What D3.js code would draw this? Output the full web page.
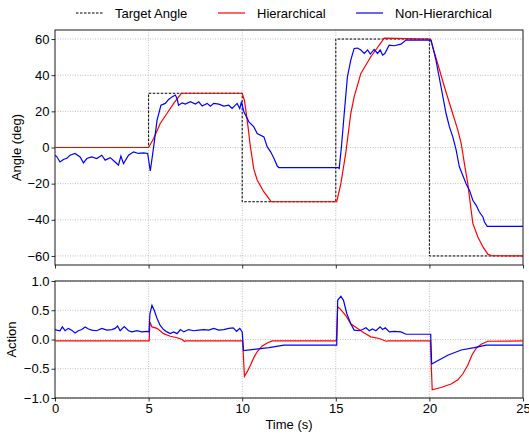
<!DOCTYPE html>
<html>
<head>
<meta charset="utf-8">
<script src="https://cdn.jsdelivr.net/npm/d3@7"></script>
<style>
  body { margin: 0; background: #fff; }
  svg text { font-family: "Liberation Sans", Arial, sans-serif; }
</style>
</head>
<body>
<div id="chart"></div>
<script>
// target step signal (step-after)
const targetTimes = [0, 5, 10, 15, 20, 25];
const targetAngles = [0, 30, -30, 60, -60, -60];

// [time, angle]
const hierAngle = [[0,0],[5.0,0],[5.27,5],[5.62,13.3],[5.98,18.8],[6.34,24.4],[6.75,30],[10.0,30],[10.12,26],[10.27,15],[10.44,0.3],[10.62,-12],[10.8,-18],[11.16,-24.6],[11.43,-28.3],[11.55,-30],[15.05,-30],[15.27,-20],[15.53,-3.3],[15.8,18.8],[15.98,28],[16.34,41],[16.87,50.2],[17.59,60.5],[20.05,60],[20.44,46.5],[20.8,33.6],[21.16,21.6],[21.52,9.6],[21.7,2.2],[21.87,-8.9],[22.05,-20],[22.23,-34.7],[22.32,-42],[22.59,-49.5],[22.86,-55],[23.12,-59],[23.3,-59.8],[25,-60]];

const flatAngle = [[0,-4.3],[0.09,-5],[0.27,-8],[0.45,-6.6],[0.63,-6],[0.8,-4.3],[1.07,-3.3],[1.34,-5.2],[1.52,-8.5],[1.7,-6.1],[1.96,-5.2],[2.23,-6.1],[2.5,-4.3],[2.68,-7],[2.95,-5.6],[3.21,-8],[3.39,-9.8],[3.52,-4.7],[3.66,-8.9],[3.93,-4.3],[4.2,-2.4],[4.46,-3.3],[4.73,-3],[4.95,-3.3],[5.09,-13],[5.27,0.3],[5.45,15],[5.66,23.4],[5.89,24.4],[6.07,26.6],[6.25,28],[6.43,29],[6.52,27],[6.6,23.4],[6.79,24.7],[6.96,24],[7.23,25.3],[7.5,24],[7.68,25.3],[7.86,22.9],[8.13,24.4],[8.3,22.9],[8.48,24.4],[8.75,24],[9.02,22.9],[9.28,23.4],[9.46,21.6],[9.73,24.4],[9.87,21.6],[9.96,25.3],[10.09,19.7],[10.36,14.2],[10.62,11.4],[10.8,7.7],[11.16,5.9],[11.34,0.3],[11.52,-2.4],[11.7,-6.1],[11.88,-10.4],[11.96,-11.1],[15.1,-11.1],[15.18,-11.6],[15.3,0.3],[15.45,18.8],[15.62,39],[15.8,48.3],[15.98,54.8],[16.16,55],[16.34,53.9],[16.52,52],[16.7,54],[16.84,51.7],[17.05,54.3],[17.23,52],[17.37,54],[17.5,51.1],[17.62,52],[17.85,56.6],[18.12,56.3],[18.48,57.2],[18.75,59.4],[20.09,59.4],[20.35,48.3],[20.62,33.6],[20.89,18.8],[21.07,11.4],[21.25,5.9],[21.43,-1.5],[21.6,-10.7],[21.78,-15.3],[21.96,-20],[22.14,-23.6],[22.32,-29.2],[22.5,-32],[22.67,-35.7],[22.86,-38.4],[22.94,-41.2],[23.09,-43.6],[25,-43.6]];

// [time, action]
const hierAction = [[0,-0.024],[5.03,-0.024],[5.07,0.3],[5.18,0.215],[5.45,0.19],[5.8,0.1],[6.16,0.056],[6.52,0.03],[6.79,0],[6.91,-0.03],[7.0,-0.024],[10.02,-0.024],[10.12,-0.63],[10.27,-0.55],[10.44,-0.44],[10.62,-0.31],[10.8,-0.21],[11.07,-0.11],[11.34,-0.06],[11.6,-0.024],[15.03,-0.024],[15.1,0.56],[15.27,0.51],[15.53,0.41],[15.8,0.27],[16.16,0.19],[16.52,0.11],[16.87,0.045],[17.32,0.017],[17.68,-0.03],[17.8,-0.024],[20.05,-0.024],[20.15,-0.86],[20.62,-0.82],[21.16,-0.76],[21.52,-0.69],[21.78,-0.59],[22.05,-0.44],[22.27,-0.27],[22.5,-0.15],[22.77,-0.08],[23.12,-0.03],[25,-0.024]];

const flatAction = [[0,0.17],[0.09,0.16],[0.27,0.15],[0.39,0.215],[0.54,0.15],[0.71,0.19],[0.89,0.16],[1.07,0.11],[1.25,0.15],[1.43,0.17],[1.61,0.215],[1.79,0.18],[1.96,0.16],[2.23,0.15],[2.5,0.19],[2.77,0.16],[3.04,0.17],[3.21,0.19],[3.34,0.23],[3.48,0.15],[3.7,0.22],[3.93,0.15],[4.11,0.13],[4.38,0.15],[4.64,0.13],[4.91,0.14],[5.02,0.13],[5.07,0.44],[5.18,0.585],[5.3,0.5],[5.45,0.36],[5.62,0.24],[5.8,0.17],[5.98,0.13],[6.16,0.1],[6.34,0.13],[6.52,0.1],[6.7,0.17],[6.88,0.13],[7.14,0.17],[7.41,0.15],[7.68,0.16],[7.95,0.17],[8.21,0.16],[8.48,0.19],[8.75,0.16],[9.02,0.17],[9.28,0.19],[9.52,0.2],[9.7,0.14],[9.87,0.19],[10.0,0.13],[10.07,-0.19],[11.43,-0.14],[12.23,-0.097],[15.05,-0.097],[15.1,0.67],[15.27,0.74],[15.41,0.67],[15.59,0.44],[15.8,0.27],[15.98,0.16],[16.25,0.15],[16.43,0.17],[16.61,0.2],[16.79,0.15],[16.96,0.18],[17.14,0.15],[17.37,0.215],[17.5,0.17],[17.64,0.2],[17.86,0.13],[18.12,0.14],[18.48,0.13],[18.75,0.09],[20.07,0.09],[20.12,-0.42],[20.98,-0.27],[21.7,-0.18],[22.4,-0.14],[23.03,-0.097],[25,-0.097]];

const xTicks = [0, 5, 10, 15, 20, 25];
const angleTicks = [-60, -40, -20, 0, 20, 40, 60];
const actionTicks = [-1.0, -0.5, 0.0, 0.5, 1.0];
const legendLabels = ["Target Angle", "Hierarchical", "Non-Hierarchical"];

const width = 529, height = 434;
const left = 55, right = 523;
const top1 = 30, bottom1 = 265, top2 = 281, bottom2 = 398;

const svg = d3.select("#chart").append("svg")
    .attr("width", width)
    .attr("height", height);

const x = d3.scaleLinear().domain([0, 25]).range([left, right]);
const yA = d3.scaleLinear().domain([-65, 65]).range([bottom1, top1]);
const yU = d3.scaleLinear().domain([-1, 1]).range([bottom2, top2]);

const minus = s => String(s).replace("-", "\u2212");

function panel(y, yTicks, yFmt, top, bottom, showX) {
    const g = svg.append("g");
    // grid
    g.append("g").selectAll("line").data(xTicks.slice(1, -1)).enter().append("line")
        .attr("x1", d => x(d)).attr("x2", d => x(d))
        .attr("y1", top).attr("y2", bottom)
        .attr("stroke", "#b0b0b0").attr("stroke-width", 0.8).attr("stroke-dasharray", "1,1.5");
    g.append("g").selectAll("line").data(yTicks).enter().append("line")
        .attr("x1", left).attr("x2", right)
        .attr("y1", d => y(d)).attr("y2", d => y(d))
        .attr("stroke", "#b0b0b0").attr("stroke-width", 0.8).attr("stroke-dasharray", "1,1.5");

    const ax = g.append("g")
        .attr("transform", `translate(${left},0)`)
        .call(d3.axisLeft(y).tickValues(yTicks).tickSize(3.5).tickPadding(2).tickFormat(d => minus(yFmt(d))));
    const bx = g.append("g")
        .attr("transform", `translate(0,${bottom})`)
        .call(d3.axisBottom(x).tickValues(xTicks).tickSize(3.5).tickPadding(2).tickFormat(showX ? d3.format("d") : ""));
    [ax, bx].forEach(a => {
        a.select(".domain").remove();
        a.selectAll("text").attr("font-size", 13).attr("fill", "#000");
        a.selectAll("line").attr("stroke", "#000").attr("stroke-width", 0.8);
    });
    g.append("rect")
        .attr("x", left).attr("y", top)
        .attr("width", right - left).attr("height", bottom - top)
        .attr("fill", "none").attr("stroke", "#000").attr("stroke-width", 0.9);
    return g;
}

const p1 = panel(yA, angleTicks, d3.format("d"), top1, bottom1, false);
const p2 = panel(yU, actionTicks, d3.format(".1f"), top2, bottom2, true);

const lineA = d3.line().x(d => x(d[0])).y(d => yA(d[1]));
const lineU = d3.line().x(d => x(d[0])).y(d => yU(d[1]));
const stepLine = d3.line().curve(d3.curveStepAfter).x(d => x(d[0])).y(d => yA(d[1]));

const clip1 = svg.append("clipPath").attr("id", "c1").append("rect")
    .attr("x", left).attr("y", top1).attr("width", right - left).attr("height", bottom1 - top1);
const clip2 = svg.append("clipPath").attr("id", "c2").append("rect")
    .attr("x", left).attr("y", top2).attr("width", right - left).attr("height", bottom2 - top2);

const g1 = svg.append("g").attr("clip-path", "url(#c1)");
g1.append("path")
    .datum(targetTimes.map((t, i) => [t, targetAngles[i]]))
    .attr("d", stepLine)
    .attr("fill", "none").attr("stroke", "#000").attr("stroke-width", 1).attr("stroke-dasharray", "2.5,1.5");
g1.append("path").datum(hierAngle).attr("d", lineA)
    .attr("fill", "none").attr("stroke", "#ff0000").attr("stroke-width", 1.2);
g1.append("path").datum(flatAngle).attr("d", lineA)
    .attr("fill", "none").attr("stroke", "#0000ff").attr("stroke-width", 1.2);

const g2 = svg.append("g").attr("clip-path", "url(#c2)");
g2.append("path").datum(hierAction).attr("d", lineU)
    .attr("fill", "none").attr("stroke", "#ff0000").attr("stroke-width", 1.2);
g2.append("path").datum(flatAction).attr("d", lineU)
    .attr("fill", "none").attr("stroke", "#0000ff").attr("stroke-width", 1.2);

// axis labels
svg.append("text")
    .attr("transform", `translate(21,${(top1 + bottom1) / 2}) rotate(-90)`)
    .attr("text-anchor", "middle").attr("font-size", 13).text("Angle (deg)");
svg.append("text")
    .attr("transform", `translate(16,${(top2 + bottom2) / 2}) rotate(-90)`)
    .attr("text-anchor", "middle").attr("font-size", 13).text("Action");
svg.append("text")
    .attr("x", (left + right) / 2).attr("y", 429)
    .attr("text-anchor", "middle").attr("font-size", 13).text("Time (s)");

// legend
const legendX = [76, 218, 356];
const legendStyle = [
    {stroke: "#000", dash: "2.5,1.5", w: 1},
    {stroke: "#ff0000", dash: null, w: 1.2},
    {stroke: "#0000ff", dash: null, w: 1.2}
];
const leg = svg.append("g").selectAll("g").data(legendLabels).enter().append("g")
    .attr("transform", (d, i) => `translate(${legendX[i]},13)`);
leg.append("line")
    .attr("x1", 0).attr("x2", 27).attr("y1", 0).attr("y2", 0)
    .attr("stroke", (d, i) => legendStyle[i].stroke)
    .attr("stroke-width", (d, i) => legendStyle[i].w)
    .attr("stroke-dasharray", (d, i) => legendStyle[i].dash);
leg.append("text")
    .attr("x", 39).attr("y", 4.5)
    .attr("font-size", 13).text(d => d);
</script>
</body>
</html>
